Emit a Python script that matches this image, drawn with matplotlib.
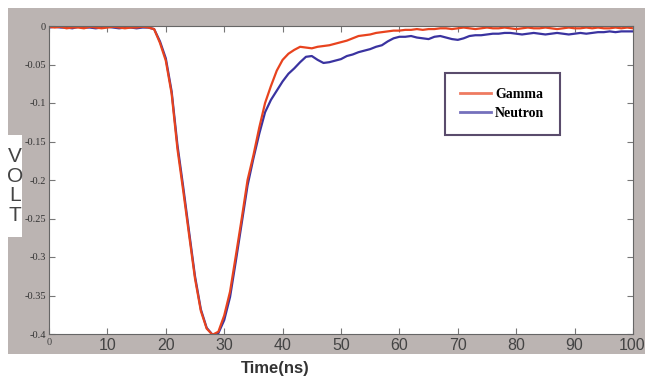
#!/usr/bin/python
# coding: UTF-8

import matplotlib
matplotlib.use('Agg')
import matplotlib.pyplot as plt
from matplotlib.transforms import ScaledTranslation
import numpy as np

# time in ns
time_ns = list(range(0, 101))

gamma = [-0.001, -0.002, -0.001, -0.003, -0.002, -0.002, -0.003, -0.001, -0.002, -0.003,
         -0.002, -0.001, -0.002, -0.003, -0.002, -0.002, -0.001, -0.002, -0.004, -0.022,
         -0.045, -0.088, -0.160, -0.215, -0.272, -0.328, -0.370, -0.393, -0.401, -0.397,
         -0.376, -0.345, -0.298, -0.250, -0.200, -0.168, -0.132, -0.100, -0.078, -0.058,
         -0.044, -0.036, -0.031, -0.027, -0.028, -0.029, -0.027, -0.026, -0.025, -0.023,
         -0.021, -0.019, -0.016, -0.013, -0.012, -0.011, -0.009, -0.008, -0.007, -0.006,
         -0.006, -0.005, -0.005, -0.004, -0.005, -0.004, -0.004, -0.003, -0.003, -0.004,
         -0.003, -0.002, -0.003, -0.004, -0.003, -0.002, -0.003, -0.003, -0.002, -0.003,
         -0.004, -0.003, -0.002, -0.003, -0.003, -0.002, -0.003, -0.004, -0.003, -0.002,
         -0.003, -0.003, -0.002, -0.003, -0.002, -0.003, -0.003, -0.002, -0.003, -0.002,
         -0.003]

neutron = [-0.002, -0.001, -0.002, -0.002, -0.003, -0.001, -0.002, -0.002, -0.003, -0.002,
           -0.001, -0.002, -0.003, -0.002, -0.002, -0.003, -0.002, -0.002, -0.004, -0.020,
           -0.042, -0.085, -0.155, -0.210, -0.268, -0.325, -0.368, -0.392, -0.401, -0.399,
           -0.382, -0.352, -0.305, -0.256, -0.207, -0.172, -0.140, -0.112, -0.096, -0.084,
           -0.072, -0.062, -0.055, -0.047, -0.040, -0.039, -0.044, -0.048, -0.047, -0.045,
           -0.043, -0.039, -0.037, -0.034, -0.032, -0.030, -0.027, -0.025, -0.020, -0.016,
           -0.014, -0.014, -0.013, -0.015, -0.016, -0.017, -0.014, -0.013, -0.015, -0.017,
           -0.018, -0.016, -0.013, -0.012, -0.012, -0.011, -0.010, -0.010, -0.009, -0.009,
           -0.010, -0.011, -0.010, -0.009, -0.010, -0.011, -0.010, -0.009, -0.010, -0.011,
           -0.010, -0.009, -0.010, -0.009, -0.008, -0.008, -0.007, -0.008, -0.007, -0.007,
           -0.007]

xticks = [0, 10, 20, 30, 40, 50, 60, 70, 80, 90, 100]
yticks = [-0.4, -0.35, -0.3, -0.25, -0.2, -0.15, -0.1, -0.05, 0]
ytick_labels = ['-0.4', '-0.35', '-0.3', '-0.25', '-0.2', '-0.15', '-0.1', '-0.05', '0']


def main():
    fig = plt.figure(figsize=(6.45, 3.82), dpi=100)
    fig.patch.set_facecolor('white')

    # grey matlab-like panel (background axes)
    bg = fig.add_axes([8 / 645., 1 - 354 / 382., 637 / 645., 346 / 382.], zorder=-5)
    bg.set_facecolor('#bbb4b2')
    bg.set_xticks([])
    bg.set_yticks([])
    for s in bg.spines.values():
        s.set_visible(False)
    # white box behind VOLT
    bg.add_patch(plt.Rectangle((8 / 645., 1 - 237 / 382.), 14 / 645., 102 / 382., transform=fig.transFigure,
                               facecolor='white', edgecolor='none'))

    ax = fig.add_axes([49 / 645., 1 - 334 / 382., 584 / 645., 308 / 382.])
    ax.set_facecolor('white')

    ax.plot(time_ns, neutron, color='#3a33a0', lw=1.6, label='Neutron')
    ax.plot(time_ns, gamma, color='#e8431e', lw=1.6, label='Gamma')

    ax.set_xlim(0, 100)
    ax.set_ylim(-0.4, 0)
    ax.set_xticks(xticks)
    ax.set_yticks(yticks)
    ax.set_yticklabels(ytick_labels, family='Liberation Serif', fontsize=7.5, color='#333333')
    ax.set_xticklabels([str(x) for x in xticks], family='Liberation Sans', fontsize=11.5, color='#444444')
    first = ax.get_xticklabels()[0]
    first.set_fontfamily('Liberation Serif')
    first.set_fontsize(7.5)
    first.set_transform(first.get_transform() + ScaledTranslation(0.03, -0.03, fig.dpi_scale_trans))
    ax.tick_params(direction='in', length=4, top=True, right=True, colors='#777777', pad=2)
    ax.tick_params(axis='x', pad=3)
    for lbl in ax.get_yticklabels():
        lbl.set_color('#333333')
    for lbl in ax.get_xticklabels():
        lbl.set_color('#444444')
    last = ax.get_xticklabels()[-1]
    last.set_horizontalalignment('right')
    last.set_transform(last.get_transform() + ScaledTranslation(0.12, 0, fig.dpi_scale_trans))
    for s in ax.spines.values():
        s.set_color('#666666')
        s.set_linewidth(0.8)

    # legend, reversed so Gamma comes first
    h, l = ax.get_legend_handles_labels()
    leg = ax.legend(h[::-1], l[::-1], loc='upper left', bbox_to_anchor=(445 / 645., 1 - 73 / 382.),
                    bbox_transform=fig.transFigure, borderaxespad=0, fancybox=False,
                    prop={'family': 'Liberation Serif', 'weight': 'bold', 'size': 10},
                    handlelength=2.2, handletextpad=0.3, borderpad=1.1, labelspacing=0.4,
                    framealpha=1)
    leg.get_frame().set_edgecolor('#5a4c6c')
    leg.get_frame().set_linewidth(1.5)
    for line in leg.get_lines():
        line.set_linewidth(2)
        line.set_alpha(0.7)

    fig.text(15 / 645., 1 - 186 / 382., 'V\nO\nL\nT', ha='center', va='center', family='Liberation Sans',
             fontsize=15, color='#444444', linespacing=1.05)

    fig.text(275 / 645., 1 - 368 / 382., 'Time(ns)', ha='center', va='center', family='Liberation Sans',
             fontweight='bold', fontsize=12, color='#333333')

    fig.savefig('out.png', dpi=100)


if __name__ == '__main__':
    main()
